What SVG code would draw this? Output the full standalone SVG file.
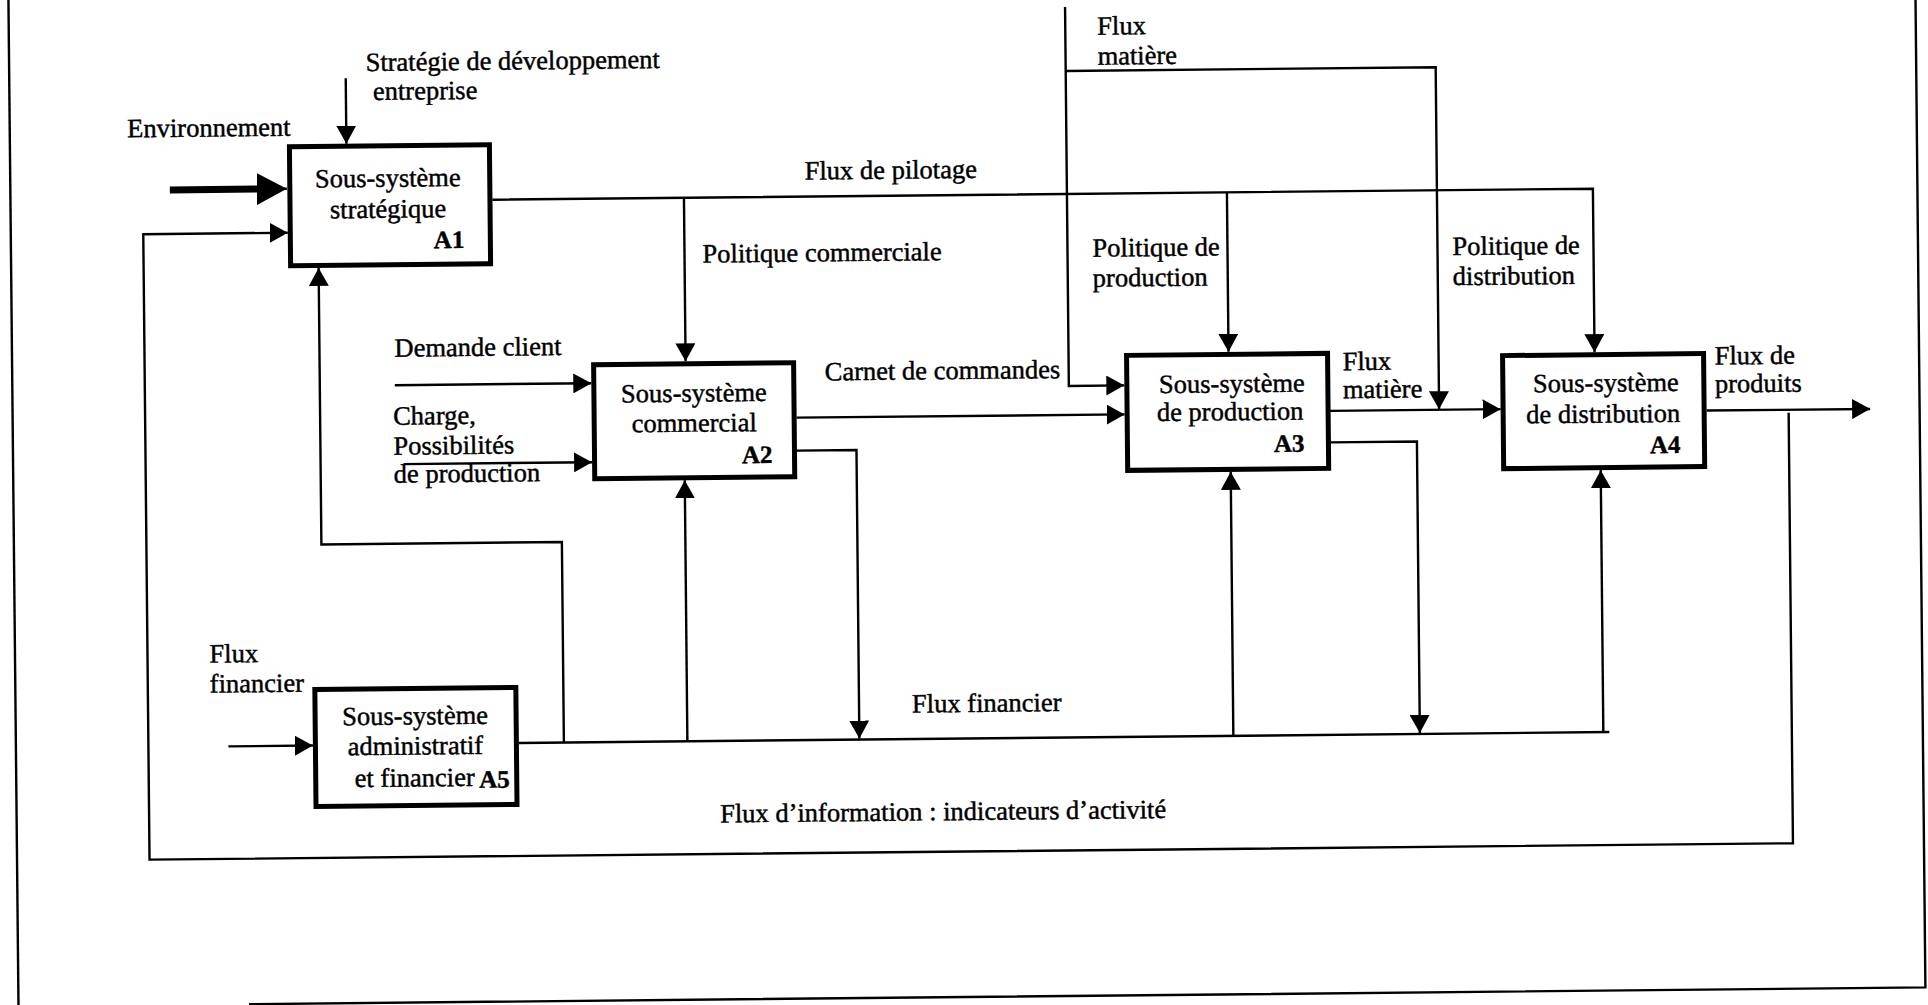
<svg xmlns="http://www.w3.org/2000/svg" width="1928" height="1005" viewBox="0 0 1928 1005">
<style>
text{font-family:"Liberation Serif","Times New Roman",serif;font-size:26.5px;fill:#000;stroke:#000;stroke-width:0.45}
.c{text-anchor:middle}
.id{font-weight:bold;font-size:25px;text-anchor:end}
.box{fill:#fff;stroke:#000;stroke-width:5}
.ln{fill:none;stroke:#000;stroke-width:2.4}
.thick{fill:none;stroke:#000;stroke-width:7}
</style>
<defs>
<marker id="arr" markerUnits="userSpaceOnUse" viewBox="0 0 18 20" refX="18" refY="10" markerWidth="18" markerHeight="20" orient="auto">
<path d="M0,0 L18,10 L0,20 z" fill="#000"/>
</marker>
<marker id="arrBig" markerUnits="userSpaceOnUse" viewBox="0 0 30 32" refX="30" refY="16" markerWidth="30" markerHeight="32" orient="auto">
<path d="M0,0 L30,16 L0,32 z" fill="#000"/>
</marker>
</defs>
<rect width="1928" height="1005" fill="#fff"/>
<g transform="rotate(-0.573 964 502)">
<g id="frame">
<path class="ln" d="M13.5,-20 V1030"/>
<path class="ln" d="M244,997 H1920.5 V-20"/>
</g>
<g id="connectors">
<path class="thick" d="M173,182 H276"/>
<path class="ln" d="M260,182 H290" marker-end="url(#arrBig)"/>
<path class="ln" d="M350,72 V137.5" marker-end="url(#arr)"/>
<path class="ln" d="M1789.5,421 V851.5 H146 V226 H290.5" marker-end="url(#arr)"/>
<path class="ln" d="M495.5,195 H1596 V358.5" marker-end="url(#arr)"/>
<path class="ln" d="M687,195 V358.5" marker-end="url(#arr)"/>
<path class="ln" d="M1230,195 V354.5" marker-end="url(#arr)"/>
<path class="ln" d="M1070,8 V387 H1125.5" marker-end="url(#arr)"/>
<path class="ln" d="M1070,72 H1440 V414" marker-end="url(#arr)"/>
<path class="ln" d="M797.5,416 H1125.5" marker-end="url(#arr)"/>
<path class="ln" d="M797.5,449 H857 V737.5" marker-end="url(#arr)"/>
<path class="ln" d="M1331,414.5 H1501.5" marker-end="url(#arr)"/>
<path class="ln" d="M1707.5,418 H1871" marker-end="url(#arr)"/>
<path class="ln" d="M1331,446 H1417.5 V737.5" marker-end="url(#arr)"/>
<path class="ln" d="M516.5,738.5 H1607"/>
<path class="ln" d="M561.5,738.5 V538 H321 V261.5" marker-end="url(#arr)"/>
<path class="ln" d="M685,738.5 V477.5" marker-end="url(#arr)"/>
<path class="ln" d="M1231,738.5 V474.5" marker-end="url(#arr)"/>
<path class="ln" d="M1601,738.5 V476.5" marker-end="url(#arr)"/>
<path class="ln" d="M396,379.5 H592.5" marker-end="url(#arr)"/>
<path class="ln" d="M404,458.5 H592.5" marker-end="url(#arr)"/>
<path class="ln" d="M226,739 H310.5" marker-end="url(#arr)"/>
</g>
<g id="labels">
<text x="131" y="129">Environnement</text>
<text x="370" y="65">Stratégie de développement</text>
<text x="377" y="94">entreprise</text>
<text x="808" y="178">Flux de pilotage</text>
<text x="705" y="260">Politique commerciale</text>
<text x="1102" y="36">Flux</text>
<text x="1102" y="66">matière</text>
<text x="1095" y="258">Politique de</text>
<text x="1095" y="288">production</text>
<text x="1455" y="260">Politique de</text>
<text x="1455" y="290">distribution</text>
<text x="396" y="351">Demande client</text>
<text x="394" y="419">Charge,</text>
<text x="394" y="449">Possibilités</text>
<text x="394" y="477">de production</text>
<text x="826" y="379">Carnet de commandes</text>
<text x="1344" y="374">Flux</text>
<text x="1344" y="402">matière</text>
<text x="1716" y="372">Flux de</text>
<text x="1716" y="400">produits</text>
<text x="910" y="712">Flux financier</text>
<text x="208" y="655">Flux</text>
<text x="208" y="685">financier</text>
<text x="717" y="820">Flux d’information : indicateurs d’activité</text>
</g>
<g id="A1">
<rect class="box" x="293" y="140" width="200" height="119"/>
<text class="c" x="391" y="181">Sous-système</text>
<text class="c" x="391" y="212">stratégique</text>
<text class="id" x="467" y="243">A1</text>
</g>
<g id="A2">
<rect class="box" x="595" y="361" width="200" height="114"/>
<text class="c" x="695" y="399">Sous-système</text>
<text class="c" x="695" y="429">commercial</text>
<text class="id" x="773" y="461">A2</text>
</g>
<g id="A3">
<rect class="box" x="1128" y="357" width="201" height="115"/>
<text class="c" x="1233" y="395">Sous-système</text>
<text class="c" x="1231" y="423">de production</text>
<text class="id" x="1305" y="455">A3</text>
</g>
<g id="A4">
<rect class="box" x="1504" y="361" width="201" height="113"/>
<text class="c" x="1607" y="398">Sous-système</text>
<text class="c" x="1604" y="429">de distribution</text>
<text class="id" x="1681" y="460">A4</text>
</g>
<g id="A5">
<rect class="box" x="313" y="683" width="201" height="117"/>
<text class="c" x="413" y="719">Sous-système</text>
<text class="c" x="413" y="749">administratif</text>
<text x="352" y="781">et financier</text>
<text class="id" x="507" y="783">A5</text>
</g>
</g>
</svg>
